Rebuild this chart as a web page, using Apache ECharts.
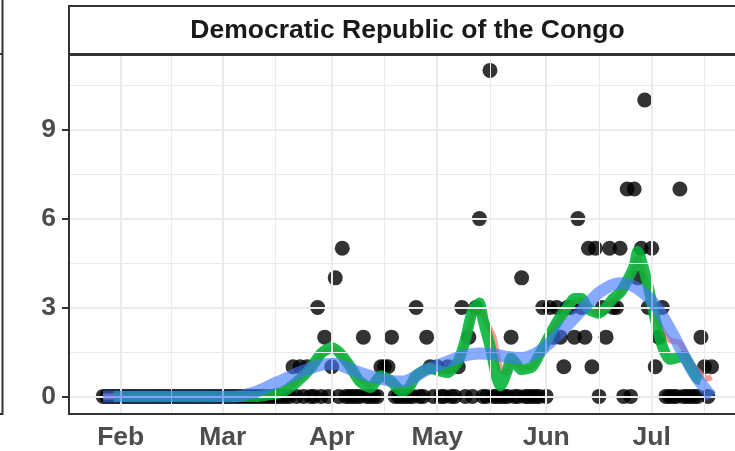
<!DOCTYPE html>
<html>
<head>
<meta charset="utf-8">
<script src="https://cdn.jsdelivr.net/npm/echarts@6/dist/echarts.min.js"></script>
<style>
  html, body { margin: 0; padding: 0; background: #fff; }
  #chart { width: 735px; height: 451px; }
</style>
</head>
<body>
<div id="chart"></div>
<script>
// 每日新增（黑点），从 1 月 27 日开始
var casesJan = [0, 0, 0, 0, 0];
var casesFeb = [0,0,0,0,0, 0,0,0,0,0, 0,0,0,0,0, 0,0,0,0,0, 0,0,0,0,0, 0,0,0,0];
var casesMar = [0,0,0,0,0, 0,0,0,0,0, 0,0,0,0,0, 0,0,0,0,0, 1,0,1,0,1, 0,0,3,0,2, 0];
var casesApr = [1,4,0,5,0, 0,0,0,0,2, 0,0,0,0,1, 1,1,2,0,0, 0,0,0,0,3, 0,0,2,1,0];
var casesMay = [1,0,0,1,0, 0,1,3,0,2, 0,3,6,0,0, 11,0,0,0,0, 0,2,0,0,4, 0,0,0,0,0, 3];
var casesJun = [0,3,2,3,2, 1,3,3,2,6, 3,2,5,1,5, 0,3,2,5,3, 3,5,0,7,0, 7,4,5,10,3];
var casesJul = [5,1,2,3,0, 0,0,0,7,0, 0,0,0,0,2, 1,0,1];
var firstDate = '01-27';

// 绿色粗线（滑动平均）
var greenDates = ['01-30','03-11','03-14','03-18','03-22','03-26','03-29','04-01','04-03','04-06',
  '04-09','04-12','04-15','04-18','04-21','04-23','04-25','04-29','05-02','05-04',
  '05-07','05-09','05-11','05-13','05-14','05-16','05-18','05-19','05-21','05-22',
  '05-25','05-28','05-30','06-01','06-04','06-07','06-09','06-11','06-13','06-16',
  '06-18','06-20','06-22','06-24','06-26','06-27','06-28','06-30','07-02','07-04',
  '07-06','07-08','07-10','07-12','07-14','07-15'];
var greenValues = [0, 0, 0.05, 0.15, 0.48, 0.95, 1.45, 1.65, 1.5, 1.05,
  0.5, 0.3, 0.7, 0.5, 0.15, 0.3, 0.7, 0.95, 0.85, 0.8,
  1.2, 1.9, 2.9, 3.15, 2.6, 1.7, 0.6, 0.35, 0.9, 1.3,
  0.9, 1.0, 1.4, 1.85, 2.5, 3.0, 3.3, 3.3, 2.95, 2.8,
  3.0, 3.3, 3.5, 3.9, 4.4, 4.9, 4.6, 3.7, 2.6, 1.7,
  1.25, 1.3, 1.35, 1.0, 0.6, 0.55];

// 红色细线
var redDates = ['01-27','03-11','03-14','03-18','03-22','03-26','03-29','04-01','04-03','04-06',
  '04-09','04-12','04-15','04-18','04-21','04-23','04-25','04-29','05-02','05-04',
  '05-07','05-09','05-11','05-13','05-15','05-17','05-19','05-21','05-22','05-25',
  '05-28','05-30','06-01','06-04','06-07','06-09','06-11','06-13','06-16','06-18',
  '06-20','06-22','06-24','06-26','06-27','06-28','06-30','07-02','07-04','07-06',
  '07-09','07-12','07-15','07-17','07-18'];
var redValues = [0, 0, 0.05, 0.17, 0.5, 0.95, 1.4, 1.6, 1.45, 1.05,
  0.6, 0.35, 0.65, 0.5, 0.2, 0.3, 0.65, 0.95, 0.85, 0.85,
  1.2, 1.8, 2.7, 2.95, 2.5, 2.0, 0.9, 0.8, 1.2, 0.95,
  1.0, 1.35, 1.8, 2.45, 2.95, 3.2, 3.25, 3.0, 2.8, 2.95,
  3.25, 3.45, 3.85, 4.3, 4.7, 4.4, 3.6, 2.8, 2.2, 1.9,
  1.8, 1.15, 0.75, 0.6, 0.65];

// 蓝色平滑曲线（loess）
var blueDates = ['01-27','03-04','03-07','03-10','03-13','03-16','03-20','03-23','03-26','03-30',
  '04-02','04-05','04-09','04-14','04-18','04-21','04-24','04-28','05-03','05-08',
  '05-13','05-17','05-21','05-25','05-29','06-01','06-04','06-07','06-10','06-13',
  '06-16','06-19','06-22','06-25','06-28','07-01','07-04','07-07','07-10','07-13',
  '07-16','07-18'];
var blueValues = [0, 0, 0.04, 0.13, 0.28, 0.45, 0.66, 0.82, 0.96, 1.08,
  1.1, 0.98, 0.8, 0.62, 0.52, 0.5, 0.62, 0.9, 1.13, 1.35,
  1.45, 1.42, 1.33, 1.3, 1.45, 1.7, 2.05, 2.4, 2.78, 3.15,
  3.5, 3.72, 3.82, 3.76, 3.55, 3.22, 2.72, 2.1, 1.42, 0.78,
  0.28, 0];

var monthTicks = ['02-01', '03-01', '04-01', '05-01', '06-01', '07-01'];
var monthNames = ['Feb', 'Mar', 'Apr', 'May', 'Jun', 'Jul'];
var minorTicks = ['02-15', '03-16', '04-16', '05-16', '06-16', '07-16'];
var yTicks = [0, 3, 6, 9];
var yMinor = [1.5, 4.5, 7.5, 10.5];
var title = 'Democratic Republic of the Congo';

// 日期 -> 一年中的第几天（1月1日 = 0）
function toDay(s) {
    var p = s.split('-');
    return (Date.UTC(2020, +p[0] - 1, +p[1]) - Date.UTC(2020, 0, 1)) / 86400000;
}
function pairs(dates, values) {
    return dates.map(function (d, i) { return [toDay(d), values[i]]; });
}

var allCases = [].concat(casesJan, casesFeb, casesMar, casesApr, casesMay, casesJun, casesJul);
var start = toDay(firstDate);
var points = allCases.map(function (v, i) { return [start + i, v]; });

var monthDays = monthTicks.map(toDay);
var minorDays = minorTicks.map(toDay);
minorDays[0] = (monthDays[0] + monthDays[1]) / 2;

var gridLines = [];
minorDays.forEach(function (d) { gridLines.push({ xAxis: d, lineStyle: { color: '#ebebeb', width: 1, type: 'solid' } }); });
yMinor.forEach(function (v) { gridLines.push({ yAxis: v, lineStyle: { color: '#ebebeb', width: 1, type: 'solid' } }); });
monthDays.forEach(function (d) { gridLines.push({ xAxis: d, lineStyle: { color: '#ebebeb', width: 2, type: 'solid' } }); });
yTicks.forEach(function (v) { gridLines.push({ yAxis: v, lineStyle: { color: '#ebebeb', width: 2, type: 'solid' } }); });

var font = 'Liberation Sans, Arial, sans-serif';
var myChart = echarts.init(document.getElementById('chart'), null, { renderer: 'canvas' });

// 面板右边超出画面：网格只到 735，max 按 3.517 px/天 换算
var option = {
    animation: false,
    backgroundColor: '#fff',
    grid: { left: 69, top: 55, right: 0, height: 359, containLabel: false },
    xAxis: {
        type: 'value',
        min: 16.3,
        max: 205.67,
        axisLine: { show: false },
        splitLine: { show: false },
        axisTick: { show: true, customValues: monthDays, length: 7, lineStyle: { color: '#333333', width: 2 } },
        axisLabel: {
            customValues: monthDays,
            formatter: function (v) { return monthNames[monthDays.indexOf(v)]; },
            margin: 11, fontSize: 26.5, fontWeight: 'bold', color: '#4d4d4d', fontFamily: font
        }
    },
    yAxis: {
        type: 'value',
        min: -0.56,
        max: 11.52,
        axisLine: { show: false },
        splitLine: { show: false },
        axisTick: { show: true, customValues: yTicks, length: 7, lineStyle: { color: '#333333', width: 2 } },
        axisLabel: {
            customValues: yTicks,
            margin: 13, fontSize: 26.5, fontWeight: 'bold', color: '#4d4d4d', fontFamily: font
        }
    },
    series: [
        {
            type: 'line', data: [], z: 1, silent: true,
            markLine: { silent: true, symbol: 'none', label: { show: false }, data: gridLines }
        },
        {
            type: 'scatter', data: points, z: 2, symbolSize: 15,
            itemStyle: { color: '#000000' }
        },
        {
            type: 'line', data: pairs(redDates, redValues), z: 3, showSymbol: false, smooth: 0.2,
            lineStyle: { color: '#F8766D', width: 6, opacity: 0.75, cap: 'butt', join: 'round' }
        },
        {
            type: 'line', data: pairs(greenDates, greenValues), z: 4, showSymbol: false, smooth: 0.2,
            lineStyle: { color: '#00B236', width: 11, opacity: 0.88, cap: 'butt', join: 'round' }
        },
        {
            type: 'line', data: pairs(blueDates, blueValues), z: 5, showSymbol: false, smooth: 0.4,
            lineStyle: { color: '#3F78FF', width: 12, opacity: 0.62, cap: 'butt', join: 'round' }
        }
    ],
    graphic: [
        { type: 'rect', z: 100, shape: { x: 69, y: 55, width: 677, height: 359 },
          style: { fill: null, stroke: '#333333', lineWidth: 2 } },
        { type: 'rect', z: 100, shape: { x: 69, y: 6, width: 677, height: 48 },
          style: { fill: '#ffffff', stroke: '#333333', lineWidth: 2 } },
        { type: 'text', z: 101, x: 407.5, y: 31,
          style: { text: title, fill: '#1a1a1a', font: 'bold 26.5px ' + font, textAlign: 'center', textVerticalAlign: 'middle' } },
        { type: 'line', z: 100, shape: { x1: 2.5, y1: 0, x2: 2.5, y2: 415 }, style: { stroke: '#333333', lineWidth: 2 } },
        { type: 'line', z: 100, shape: { x1: 0, y1: 54, x2: 3, y2: 54 }, style: { stroke: '#333333', lineWidth: 2 } },
        { type: 'line', z: 100, shape: { x1: 0, y1: 414, x2: 3, y2: 414 }, style: { stroke: '#333333', lineWidth: 2 } }
    ]
};
myChart.setOption(option);
window.onresize = function () { myChart.resize(); };
</script>
</body>
</html>
